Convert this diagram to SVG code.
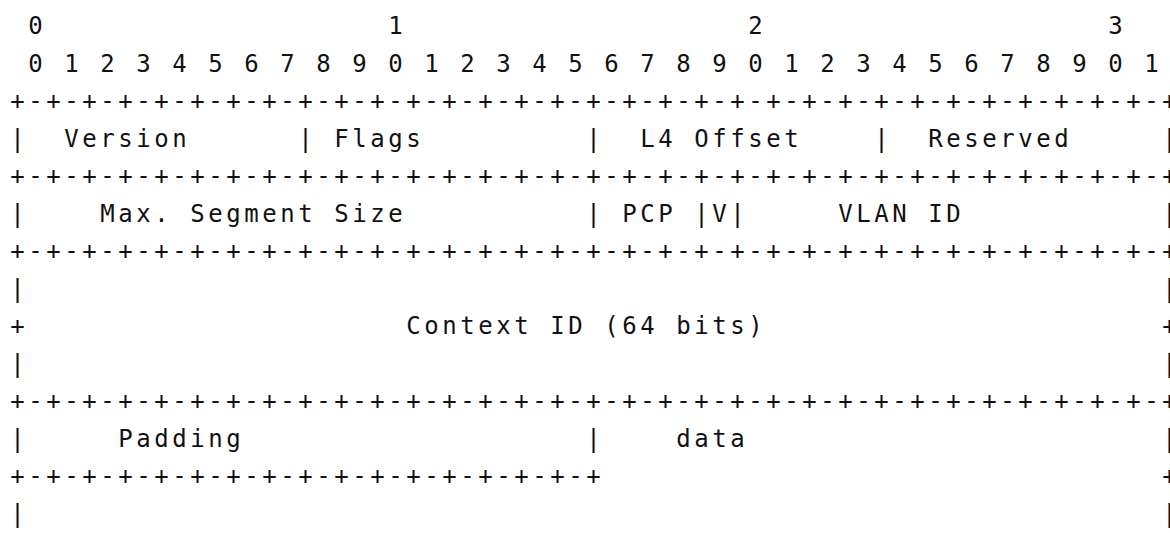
<svg xmlns="http://www.w3.org/2000/svg" width="1170" height="533" viewBox="0 0 1170 533">
<style>
.t{font-family:"DejaVu Sans Mono","Liberation Mono",monospace;font-size:24px;letter-spacing:3.55px;fill:#111;white-space:pre;}
</style>
<rect width="1170" height="533" fill="#fff"/>
<g id="packet" xml:space="preserve">
<text class="t" x="10.3" y="34"> 0                   1                   2                   3</text>
<text class="t" x="10.3" y="71.5"> 0 1 2 3 4 5 6 7 8 9 0 1 2 3 4 5 6 7 8 9 0 1 2 3 4 5 6 7 8 9 0 1</text>
<text class="t" x="10.3" y="109">+-+-+-+-+-+-+-+-+-+-+-+-+-+-+-+-+-+-+-+-+-+-+-+-+-+-+-+-+-+-+-+-+</text>
<text class="t" x="10.3" y="146.5">|  Version      | Flags         |  L4 Offset    |  Reserved     |</text>
<text class="t" x="10.3" y="184">+-+-+-+-+-+-+-+-+-+-+-+-+-+-+-+-+-+-+-+-+-+-+-+-+-+-+-+-+-+-+-+-+</text>
<text class="t" x="10.3" y="221.5">|    Max. Segment Size          | PCP |V|     VLAN ID           |</text>
<text class="t" x="10.3" y="259">+-+-+-+-+-+-+-+-+-+-+-+-+-+-+-+-+-+-+-+-+-+-+-+-+-+-+-+-+-+-+-+-+</text>
<text class="t" x="10.3" y="296.5">|                                                               |</text>
<text class="t" x="10.3" y="334">+                     Context ID (64 bits)                      +</text>
<text class="t" x="10.3" y="371.5">|                                                               |</text>
<text class="t" x="10.3" y="409">+-+-+-+-+-+-+-+-+-+-+-+-+-+-+-+-+-+-+-+-+-+-+-+-+-+-+-+-+-+-+-+-+</text>
<text class="t" x="10.3" y="446.5">|     Padding                   |    data                       |</text>
<text class="t" x="10.3" y="484">+-+-+-+-+-+-+-+-+-+-+-+-+-+-+-+-+                               +</text>
<text class="t" x="10.3" y="521.5">|                                                               |</text>
</g>
</svg>
